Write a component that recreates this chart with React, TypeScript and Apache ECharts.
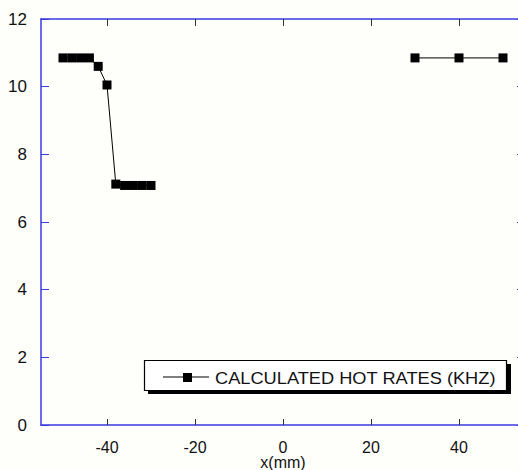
import React, { useEffect, useRef } from "react";
import * as echarts from "echarts";

const seriesName = "CALCULATED HOT RATES (KHZ)";
const xValues = [-50, -48, -46, -44, -42, -40, -38, -36, -34, -32, -30, null, 30, 40, 50];
const yValues = [10.85, 10.85, 10.85, 10.85, 10.6, 10.05, 7.12, 7.08, 7.08, 7.08, 7.08, null, 10.85, 10.85, 10.85];
const xTicks = [-40, -20, 0, 20, 40];
const yTicks = [0, 2, 4, 6, 8, 10, 12];
const xName = "x(mm)";

const BLUE = "#3a3ae0";
const FONT = "'Liberation Sans', Arial, sans-serif";

export default function App() {
  const ref = useRef<HTMLDivElement>(null);
  useEffect(() => {
    if (!ref.current) return;
    const chart = echarts.init(ref.current, null, { renderer: "svg" });
    const data = xValues.map((x, i) =>
      x === null || yValues[i] === null ? ["-", "-"] : [x, yValues[i]]
    );
    const baseX = {
      type: "value" as const,
      min: -55,
      max: 55,
      splitLine: { show: false },
      axisLine: { show: true, onZero: false, lineStyle: { color: BLUE, width: 1.5 } },
    };
    const baseY = {
      type: "value" as const,
      min: 0,
      max: 12,
      interval: 2,
      splitLine: { show: false },
      axisLine: { show: true, onZero: false, lineStyle: { color: BLUE, width: 1.5 } },
    };
    const legY = 377;
    chart.setOption({
      animation: false,
      backgroundColor: "#fefefa",
      textStyle: { fontFamily: FONT },
      grid: {
        left: 41,
        top: 19,
        width: 484,
        height: 406,
        containLabel: false,
        outerBoundsMode: "none",
      },
      xAxis: [
        {
          ...baseX,
          position: "bottom",
          name: xName,
          nameLocation: "middle",
          nameGap: 30,
          nameMoveOverlap: false,
          nameTextStyle: { fontSize: 16, color: "#111", fontFamily: FONT, lineHeight: 15 },
          axisTick: {
            show: true,
            inside: true,
            length: 6,
            customValues: xTicks,
            lineStyle: { color: "#333" },
          },
          axisLabel: {
            show: true,
            customValues: xTicks,
            margin: 14,
            fontSize: 16,
            lineHeight: 16,
            color: "#111",
            fontFamily: FONT,
          },
        },
        {
          ...baseX,
          position: "top",
          axisTick: {
            show: true,
            inside: true,
            length: 7,
            customValues: xTicks,
            lineStyle: { color: "#333" },
          },
          axisLabel: { show: false },
        },
      ],
      yAxis: [
        {
          ...baseY,
          position: "left",
          axisTick: { show: true, inside: true, length: 8, lineStyle: { color: BLUE } },
          axisLabel: {
            show: true,
            margin: 14,
            fontSize: 17,
            color: "#111",
            fontFamily: FONT,
            formatter: (v: number) => (yTicks.includes(v) ? String(v) : ""),
          },
        },
        {
          ...baseY,
          position: "right",
          axisTick: { show: true, inside: true, length: 8, lineStyle: { color: BLUE } },
          axisLabel: { show: false },
        },
      ],
      graphic: [
        {
          type: "rect",
          z: 10,
          shape: { x: 148, y: 364, width: 363, height: 30 },
          style: { fill: "#000" },
        },
        {
          type: "rect",
          z: 11,
          shape: { x: 144.5, y: 360.5, width: 362, height: 30 },
          style: { fill: "#ffffff", stroke: "#000", lineWidth: 1.2 },
        },
        {
          type: "line",
          z: 12,
          shape: { x1: 163, y1: legY, x2: 209, y2: legY },
          style: { stroke: "#000", lineWidth: 1.2 },
        },
        {
          type: "rect",
          z: 12,
          shape: { x: 183, y: legY - 4, width: 9, height: 9 },
          style: { fill: "#000" },
        },
        {
          type: "text",
          z: 12,
          x: 215,
          y: legY + 1,
          scaleX: 1.14,
          style: {
            text: seriesName,
            fontSize: 16,
            fontFamily: FONT,
            fill: "#111",
            verticalAlign: "middle",
            align: "left",
          },
        },
      ],
      series: [
        {
          name: seriesName,
          type: "line",
          data,
          connectNulls: false,
          symbol: "rect",
          symbolSize: 9,
          itemStyle: { color: "#000" },
          lineStyle: { color: "#000", width: 1 },
        },
      ],
    });
    return () => chart.dispose();
  }, []);
  return (
    <div
      ref={ref}
      style={{ position: "absolute", left: 0, top: 0, width: 518, height: 470 }}
    />
  );
}
